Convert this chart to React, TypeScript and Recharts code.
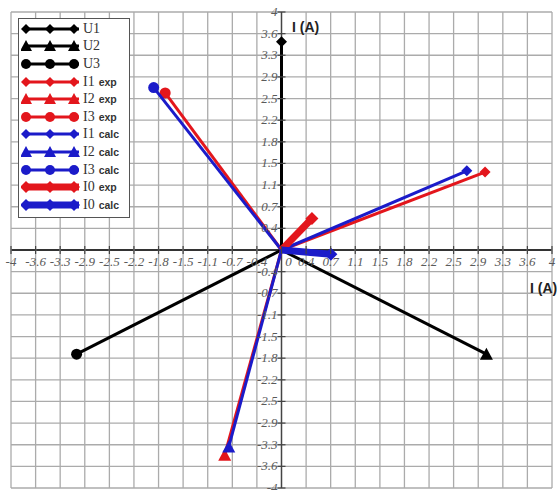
import type { FC, ReactElement } from 'react';
import { CartesianGrid, Legend, Scatter, ScatterChart, XAxis, YAxis } from 'recharts';

// phasor tips, every vector starts at the origin
const voltageEnds: [number, number][] = [
  [0, 3.5],
  [3.03, -1.75],
  [-3.03, -1.75],
];
const currentExpEnds: [number, number][] = [
  [3.01, 1.31],
  [-0.84, -3.45],
  [-1.72, 2.64],
];
const currentCalcEnds: [number, number][] = [
  [2.74, 1.33],
  [-0.78, -3.31],
  [-1.89, 2.73],
];
const neutralExpEnd: [number, number] = [0.45, 0.53];
const neutralCalcEnd: [number, number] = [0.73, -0.07];

const gridTicks = [
  -4, -3.636, -3.273, -2.909, -2.545, -2.182, -1.818, -1.455, -1.091, -0.727, -0.364, 0, 0.364, 0.727, 1.091, 1.455,
  1.818, 2.182, 2.545, 2.909, 3.273, 3.636, 4,
];
const tickLabels = [
  '-4', '-3.6', '-3.3', '-2.9', '-2.5', '-2.2', '-1.8', '-1.5', '-1.1', '-0.7', '-0.4', '0', '0.4', '0.7', '1.1', '1.5',
  '1.8', '2.2', '2.5', '2.9', '3.3', '3.6', '4',
];

const W = 557;
const H = 490;
// axes get 1px each so they still render, the rest is the plot
const margin = { top: 12, right: 5, bottom: 1, left: 10 };
const plotLeft = margin.left + 1;
const plotTop = margin.top;
const plotRight = W - margin.right;
const plotBottom = H - margin.bottom - 1;
const originX = (plotLeft + plotRight) / 2;
const originY = (plotTop + plotBottom) / 2;

const BLACK = '#000000';
const RED = '#e3161c';
const BLUE = '#1b1bc9';

type MarkerKind = 'diamond' | 'triangle' | 'circle';

const drawMarker = (kind: MarkerKind, cx: number, cy: number, color: string, s: number, key?: string) => {
  if (kind === 'circle') return <circle key={key} cx={cx} cy={cy} r={s} fill={color} />;
  if (kind === 'triangle')
    return <polygon key={key} points={`${cx},${cy - s - 1} ${cx + s + 1},${cy + s} ${cx - s - 1},${cy + s}`} fill={color} />;
  return <polygon key={key} points={`${cx},${cy - s} ${cx + s},${cy} ${cx},${cy + s} ${cx - s},${cy}`} fill={color} />;
};

type Series = {
  name: string;
  tag?: string;
  end: [number, number];
  color: string;
  marker: MarkerKind;
  width: number;
  size: number;
};

const kinds: MarkerKind[] = ['diamond', 'triangle', 'circle'];

const series: Series[] = [
  ...voltageEnds.map((end, i) => ({ name: `U${i + 1}`, end, color: BLACK, marker: kinds[i], width: 3, size: 5 })),
  ...currentExpEnds.map((end, i) => ({ name: `I${i + 1}`, tag: 'exp', end, color: RED, marker: kinds[i], width: 3, size: 5 })),
  ...currentCalcEnds.map((end, i) => ({ name: `I${i + 1}`, tag: 'calc', end, color: BLUE, marker: kinds[i], width: 3, size: 5 })),
  { name: 'I0', tag: 'exp', end: neutralExpEnd, color: RED, marker: 'diamond', width: 7, size: 6 },
  { name: 'I0', tag: 'calc', end: neutralCalcEnd, color: BLUE, marker: 'diamond', width: 7, size: 6 },
];

const tickFont = {
  fontFamily: '"Liberation Serif", "DejaVu Serif", serif',
  fontStyle: 'italic' as const,
  fontSize: 13,
  fill: '#5a5a5a',
};

// grid lines; the ones through the origin act as the axes
const gridLine = (p: any, vertical: boolean): ReactElement => {
  const onAxis = vertical ? Math.abs(p.x1 - originX) < 0.6 : Math.abs(p.y1 - originY) < 0.6;
  return (
    <line
      key={p.key ?? `${vertical ? 'v' : 'h'}-${p.index}`}
      x1={p.x1}
      y1={p.y1}
      x2={p.x2}
      y2={p.y2}
      stroke={onAxis ? (vertical ? '#444' : '#333') : '#ababab'}
      strokeWidth={onAxis ? (vertical ? 1.5 : 1.8) : 1.3}
    />
  );
};

// x ticks are drawn along the horizontal axis through the origin
const XTick = (props: any): ReactElement => {
  const { x, index } = props;
  const label = tickLabels[index];
  const isZero = label === '0';
  return (
    <g>
      <line x1={x} x2={x} y1={originY - 4} y2={originY + 4} stroke="#444" strokeWidth={1.2} />
      <text x={x + (isZero ? 7 : 0)} y={originY + 16} textAnchor="middle" {...tickFont}>
        {label}
      </text>
    </g>
  );
};

const YTick = (props: any): ReactElement => {
  const { y, index } = props;
  const label = tickLabels[index];
  if (label === '0') return <g />;
  return (
    <g>
      <line x1={originX - 4} x2={originX + 4} y1={y} y2={y} stroke="#444" strokeWidth={1.2} />
      <text x={originX - 4} y={y + 4} textAnchor="end" {...tickFont}>
        {label}
      </text>
    </g>
  );
};

const LegendBox: FC = () => (
  <div
    style={{
      background: '#fff',
      border: '1.5px solid #555',
      padding: '1px 0 3px 2px',
      width: 112,
      boxSizing: 'border-box',
    }}
  >
    {series.map((s) => (
      <div key={`${s.name}-${s.tag ?? ''}`} style={{ display: 'flex', alignItems: 'center', height: 17.6 }}>
        <svg width={61} height={16} style={{ display: 'block' }}>
          <line x1={3} x2={58} y1={8} y2={8} stroke={s.color} strokeWidth={s.width} />
          {[5, 29, 53].map((mx) => drawMarker(s.marker, mx, 8, s.color, s.size, String(mx)))}
        </svg>
        <span style={{ fontFamily: '"Liberation Serif", serif', fontSize: 14, color: '#333', marginLeft: 1 }}>
          {s.name}
        </span>
        {s.tag && (
          <span
            style={{
              fontFamily: '"Liberation Sans", Arial, sans-serif',
              fontWeight: 700,
              fontSize: 10.5,
              color: '#333',
              marginLeft: 4,
            }}
          >
            {s.tag}
          </span>
        )}
      </div>
    ))}
  </div>
);

const titleStyle = {
  position: 'absolute' as const,
  fontFamily: '"Liberation Sans", Arial, sans-serif',
  fontWeight: 700,
  fontSize: 14,
  color: '#222',
  whiteSpace: 'nowrap' as const,
};

const App: FC = () => {
  return (
    <div style={{ position: 'absolute', left: 0, top: 0, width: W, height: H, background: '#fff', overflow: 'hidden' }}>
      <ScatterChart width={W} height={H} margin={margin}>
        <CartesianGrid horizontal={(p: any) => gridLine(p, false)} vertical={(p: any) => gridLine(p, true)} />
        <XAxis
          type="number"
          dataKey="x"
          domain={[-4, 4]}
          ticks={gridTicks}
          interval={0}
          height={1}
          axisLine={false}
          tickLine={false}
          tick={(p: any) => <XTick {...p} />}
          allowDataOverflow
        />
        <YAxis
          type="number"
          dataKey="y"
          domain={[-4, 4]}
          ticks={gridTicks}
          interval={0}
          width={1}
          axisLine={false}
          tickLine={false}
          tick={(p: any) => <YTick {...p} />}
          allowDataOverflow
        />
        {series.map((s) => (
          <Scatter
            key={`${s.name}-${s.tag ?? ''}`}
            name={s.tag ? `${s.name} ${s.tag}` : s.name}
            data={[
              { x: 0, y: 0 },
              { x: s.end[0], y: s.end[1] },
            ]}
            fill={s.color}
            line={{ stroke: s.color, strokeWidth: s.width }}
            lineType="joint"
            isAnimationActive={false}
            shape={(p: any) =>
              p.payload && p.payload.x === 0 && p.payload.y === 0 ? <g /> : drawMarker(s.marker, p.cx, p.cy, s.color, s.size + 0.5)
            }
          />
        ))}
        <Legend
          layout="vertical"
          align="center"
          verticalAlign="middle"
          content={() => <LegendBox />}
          wrapperStyle={{ left: 18, top: 18, width: 112, height: 'auto' }}
        />
      </ScatterChart>
      <div style={{ ...titleStyle, left: 292, top: 19 }}>I (A)</div>
      <div style={{ ...titleStyle, left: 530, top: 280 }}>I (A)</div>
    </div>
  );
};

export default App;
